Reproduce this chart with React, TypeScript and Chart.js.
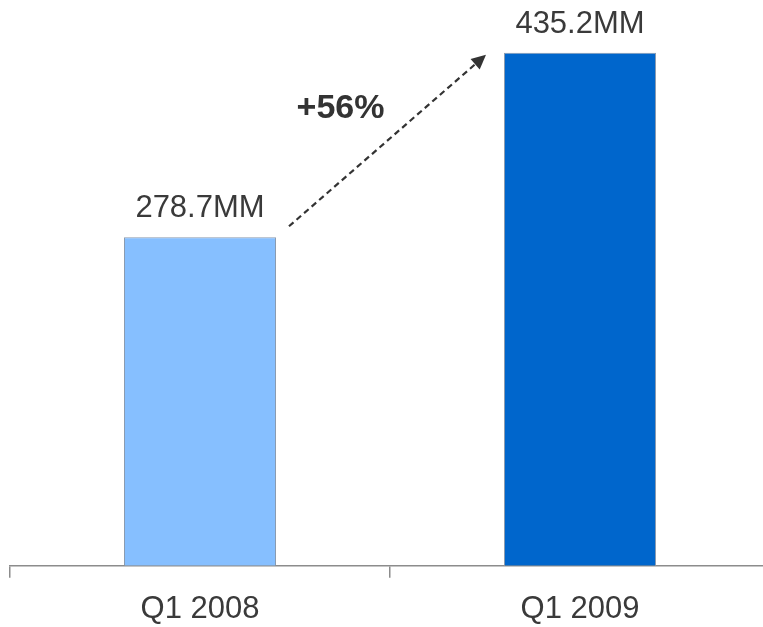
import React, { useEffect, useRef } from "react";
import { Chart, registerables } from "chart.js";

Chart.register(...registerables);

const categories = ["Q1 2008", "Q1 2009"];
const values = [278.7, 435.2];
const valueLabels = ["278.7MM", "435.2MM"];
const growthLabel = "+56%";
const barColors = ["#86BFFF", "#0066CC"];

const FONT = "'Liberation Sans', Arial, sans-serif";

const annotationPlugin = {
  id: "annotations",
  afterDatasetsDraw(chart: any) {
    const ctx = chart.ctx;
    const meta = chart.getDatasetMeta(0);
    const bars = meta.data;
    ctx.save();
    // value labels
    ctx.fillStyle = "#3a3a3a";
    ctx.font = `31px ${FONT}`;
    ctx.textAlign = "center";
    ctx.textBaseline = "alphabetic";
    bars.forEach((b: any, i: number) => {
      ctx.fillText(valueLabels[i], b.x, b.y - 20);
    });
    // arrow
    const b1 = bars[0];
    const b2 = bars[1];
    const x1 = b1.x + b1.width / 2 + 13;
    const y1 = b1.y - 11;
    const x2 = b2.x - b2.width / 2 - 18;
    const y2 = b2.y + 2;
    const ang = Math.atan2(y2 - y1, x2 - x1);
    const headLen = 16;
    const lx = x2 - Math.cos(ang) * headLen * 0.8;
    const ly = y2 - Math.sin(ang) * headLen * 0.8;
    ctx.strokeStyle = "#333333";
    ctx.lineWidth = 2.2;
    ctx.setLineDash([6, 4]);
    ctx.beginPath();
    ctx.moveTo(x1, y1);
    ctx.lineTo(lx, ly);
    ctx.stroke();
    ctx.setLineDash([]);
    ctx.fillStyle = "#333333";
    ctx.beginPath();
    ctx.moveTo(x2, y2);
    ctx.lineTo(
      x2 - headLen * Math.cos(ang - 0.45),
      y2 - headLen * Math.sin(ang - 0.45)
    );
    ctx.lineTo(
      x2 - headLen * Math.cos(ang + 0.45),
      y2 - headLen * Math.sin(ang + 0.45)
    );
    ctx.closePath();
    ctx.fill();
    // growth label
    const mx = (x1 + x2) / 2;
    const my = (y1 + y2) / 2;
    ctx.fillStyle = "#333333";
    ctx.font = `bold 34px ${FONT}`;
    ctx.textAlign = "center";
    ctx.textBaseline = "alphabetic";
    ctx.fillText(growthLabel, mx - 47, my - 23);
    ctx.restore();
  },
};

export default function App() {
  const ref = useRef<HTMLCanvasElement>(null);
  useEffect(() => {
    document.body.style.overflow = "hidden";
    const chart = new Chart(ref.current!, {
      type: "bar",
      data: {
        labels: categories,
        datasets: [
          {
            data: values,
            backgroundColor: barColors,
            borderColor: "#8a9bb0",
            borderWidth: 1,
            barPercentage: 0.4,
            categoryPercentage: 1,
          },
        ],
      },
      options: {
        responsive: false,
        animation: false,
        layout: { padding: { left: 10, right: 20, top: 0, bottom: 4 } },
        plugins: { legend: { display: false }, tooltip: { enabled: false } },
        scales: {
          x: {
            grid: {
              offset: true,
              drawOnChartArea: false,
              drawTicks: true,
              tickLength: 12,
              color: "#8c8c8c",
              lineWidth: 1.5,
            },
            border: { display: true, color: "#8c8c8c", width: 1.5 },
            ticks: {
              color: "#3a3a3a",
              font: { size: 31, family: FONT },
              padding: 13,
            },
          },
          y: {
            display: false,
            min: 0,
            max: 480,
          },
        },
      },
      plugins: [annotationPlugin],
    });
    return () => chart.destroy();
  }, []);
  return (
    <div style={{ position: "fixed", left: 0, top: 0, width: 790, height: 645 }}>
      <canvas ref={ref} width={790} height={645} />
    </div>
  );
}
